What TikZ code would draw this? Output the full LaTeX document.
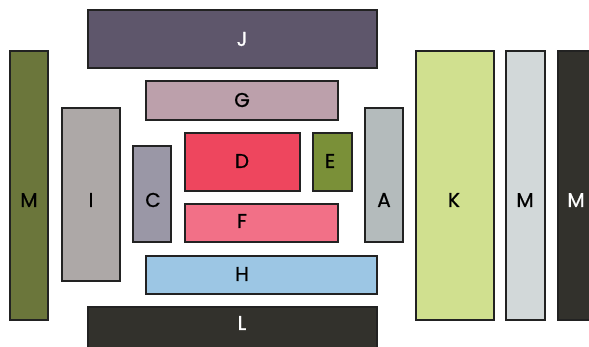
\documentclass[tikz,border=0pt]{standalone}
\usepackage{fontspec}
\setmainfont{Poppins}[FakeBold=0.8]
\definecolor{colJ}{HTML}{5E566B}
\definecolor{colMl}{HTML}{6B763B}
\definecolor{colI}{HTML}{ADA8A7}
\definecolor{colG}{HTML}{BCA0AB}
\definecolor{colC}{HTML}{9A97A6}
\definecolor{colD}{HTML}{EE465E}
\definecolor{colE}{HTML}{7A9038}
\definecolor{colF}{HTML}{F27087}
\definecolor{colA}{HTML}{B4BBBC}
\definecolor{colH}{HTML}{9CC6E4}
\definecolor{colL}{HTML}{32312C}
\definecolor{colK}{HTML}{D0E08F}
\definecolor{colMg}{HTML}{D2D8D9}
\definecolor{colMd}{HTML}{32312C}
\definecolor{edge}{HTML}{222222}

\begin{document}
\begin{tikzpicture}[x=1pt, y=-1pt,
    box/.style={draw=edge, line width=1.2pt},
    lbl/.style={font=\fontsize{20}{20}\selectfont, inner sep=0pt}]
    \useasboundingbox (0,0) rectangle (589,346);
    \clip (0,0) rectangle (589,346);
    % centre column
    \draw[box, fill=colJ](88, 10) rectangle (377, 68);
    \node[lbl, white] (J) at (242, 39){J};
    \draw[box, fill=colG](146, 81) rectangle (338, 120);
    \node[lbl] (G) at (242, 100){G};
    \draw[box, fill=colD](185, 133) rectangle (300, 191);
    \node[lbl] (D) at (242, 161){D};
    \draw[box, fill=colE](313, 133) rectangle (352, 191);
    \node[lbl] (E) at (330, 161){E};
    \draw[box, fill=colF](185, 204) rectangle (338, 242);
    \node[lbl] (F) at (242, 221){F};
    \draw[box, fill=colH](146, 256) rectangle (377, 294);
    \node[lbl] (H) at (242, 274){H};
    \draw[box, fill=colL](88, 307) rectangle (377, 352);
    \node[lbl, white] (L) at (242, 323){L};
    % left side
    \draw[box, fill=colMl](10, 51) rectangle (48, 320);
    \node[lbl] (Mleft) at (29, 200){M};
    \draw[box, fill=colI](62, 108) rectangle (120, 281);
    \node[lbl] (I) at (91, 200){I};
    \draw[box, fill=colC](133, 146) rectangle (171, 242);
    \node[lbl] (C) at (153, 200){C};
    % right side
    \draw[box, fill=colA](365, 108) rectangle (403, 242);
    \node[lbl] (A) at (384, 200){A};
    \draw[box, fill=colK](416, 51) rectangle (494, 320);
    \node[lbl] (K) at (454, 200){K};
    \draw[box, fill=colMg](506, 51) rectangle (545, 320);
    \node[lbl] (Mgray) at (525, 200){M};
    \draw[box, fill=colMd](558, 51) rectangle (596, 320);
    \node[lbl, white] (Mdark) at (576, 200){M};
\end{tikzpicture}
\end{document}
